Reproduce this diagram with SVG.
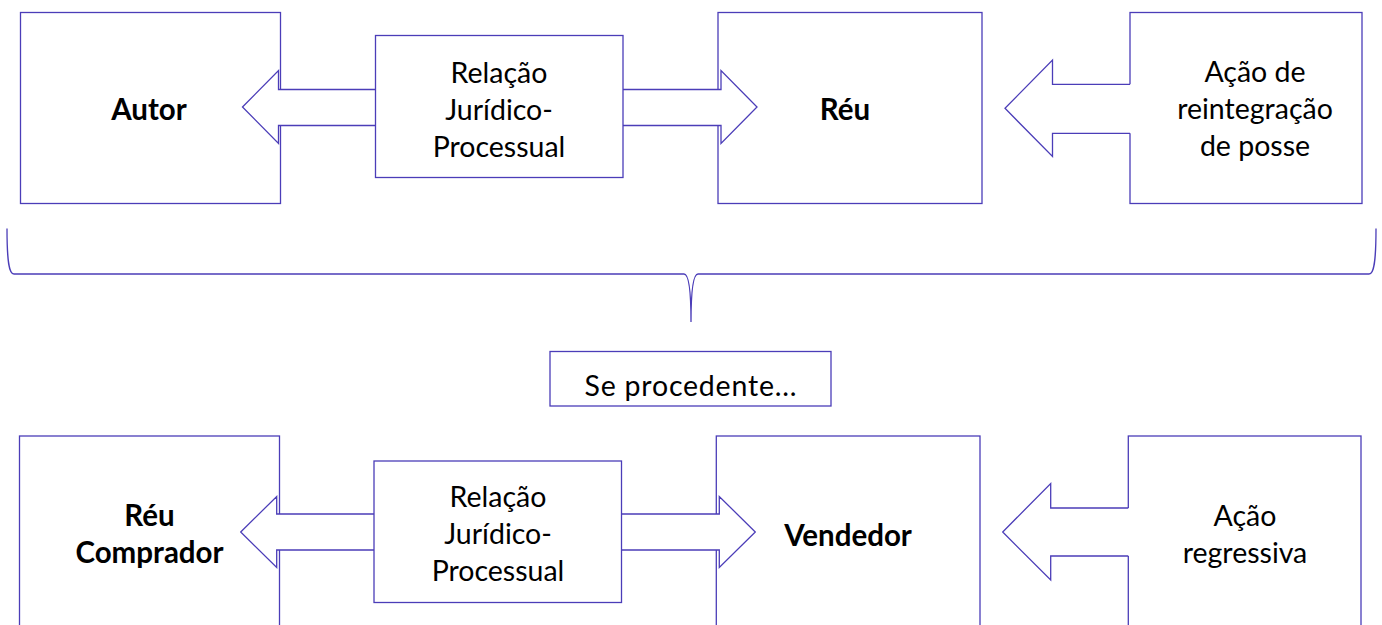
<svg xmlns="http://www.w3.org/2000/svg" width="1382" height="625" viewBox="0 0 1382 625">
<style>
.box{fill:#fff;stroke:#4B3DB8;stroke-width:1.3}
.fillw{fill:#fff;stroke:none}
.ln{fill:none;stroke:#4B3DB8;stroke-width:1.3;stroke-linejoin:miter}
.brace{fill:none;stroke:#4B3DB8;stroke-width:1.3}
text{font-family:Lato,"Liberation Sans",sans-serif;font-size:28.5px;fill:#000;text-anchor:middle}
.b{font-weight:bold;font-size:29.5px}
</style>
<rect width="1382" height="625" fill="#fff"/>
<g id="node-autor"><rect class="box" x="20.5" y="12.5" width="260" height="191"/></g>
<g id="node-reu"><rect class="box" x="718" y="12.5" width="264" height="191"/></g>
<g id="node-acao-reintegracao"><rect class="box" x="1130" y="12.5" width="232" height="191"/></g>
<g id="node-reu-comprador"><rect class="box" x="19.5" y="436" width="260" height="191"/></g>
<g id="node-vendedor"><rect class="box" x="716.3" y="436" width="263.7" height="191"/></g>
<g id="node-acao-regressiva"><rect class="box" x="1128.3" y="436" width="232.7" height="191"/></g>
<g id="connectors">
<g id="arrow-top-double">
<polygon class="fillw" points="242.5,107 278.5,70.5 278.5,89.5 721,89.5 721,70.5 757,107 721,143.5 721,125.5 278.5,125.5 278.5,143.5"/>
<polygon class="ln" points="242.5,107 278.5,70.5 278.5,89.5 721,89.5 721,70.5 757,107 721,143.5 721,125.5 278.5,125.5 278.5,143.5"/>
</g>
<g id="arrow-top-acao">
<polygon class="fillw" points="1005,108.3 1052.5,60 1052.5,84.3 1131,84.3 1131,133.3 1052.5,133.3 1052.5,156.5"/>
<polyline class="ln" points="1130,84.3 1052.5,84.3 1052.5,60 1005,108.3 1052.5,156.5 1052.5,133.3 1130,133.3"/>
</g>
<g id="arrow-bot-double">
<polygon class="fillw" points="240.7,532 276.7,496.5 276.7,514 719.3,514 719.3,496.5 755.3,532 719.3,567.5 719.3,550 276.7,550 276.7,567.5"/>
<polygon class="ln" points="240.7,532 276.7,496.5 276.7,514 719.3,514 719.3,496.5 755.3,532 719.3,567.5 719.3,550 276.7,550 276.7,567.5"/>
</g>
<g id="arrow-bot-acao">
<polygon class="fillw" points="1002.7,532 1050.7,483.5 1050.7,508 1129.3,508 1129.3,556 1050.7,556 1050.7,580"/>
<polyline class="ln" points="1128.3,508 1050.7,508 1050.7,483.5 1002.7,532 1050.7,580 1050.7,556 1128.3,556"/>
</g>
<path id="brace" class="brace" d="M7,228.5 C7,262 9,274 14,274 H684 C689,274 691,290 691,322 C691,290 693,274 698,274 H1369 C1374,274 1376,262 1376,228.5"/>
</g>
<g id="node-relacao-top"><rect class="box" x="375.5" y="35.5" width="247.5" height="142"/><text x="499" y="83">Relação</text><text x="499" y="120">Jurídico-</text><text x="499" y="157">Processual</text></g>
<g id="node-relacao-bot"><rect class="box" x="374" y="461" width="247.5" height="141.5"/><text x="498" y="507">Relação</text><text x="498" y="544">Jurídico-</text><text x="498" y="581">Processual</text></g>
<g id="node-se-procedente"><rect class="box" x="550" y="351.5" width="281" height="54.5"/><text x="690.5" y="396" textLength="212">Se procedente...</text></g>
<g id="labels">
<text class="b" x="149" y="120">Autor</text>
<text class="b" x="845" y="120">Réu</text>
<text x="1255" y="82">Ação de</text><text x="1255" y="119">reintegração</text><text x="1255" y="156">de posse</text>
<text class="b" x="149.5" y="526">Réu</text><text class="b" x="149.5" y="563">Comprador</text>
<text class="b" x="848" y="546">Vendedor</text>
<text x="1245" y="526">Ação</text><text x="1245" y="563">regressiva</text>
</g>
</svg>
